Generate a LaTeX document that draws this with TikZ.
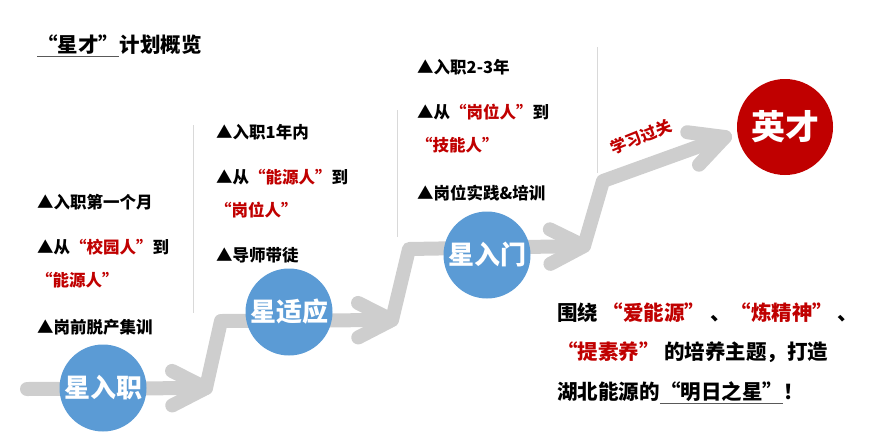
\documentclass[tikz,border=0pt]{standalone}
\usepackage{fontspec}
\setmainfont{Noto Sans CJK SC}
\usetikzlibrary{arrows.meta,positioning,calc}
\definecolor{StarBlue}{RGB}{91,155,213}
\definecolor{StarRed}{RGB}{192,0,0}
\definecolor{StarTrail}{RGB}{206,206,206}
\definecolor{StarRule}{RGB}{217,217,217}
\newcommand{\hl}[1]{\textcolor{StarRed}{#1}}

\begin{document}
\begin{tikzpicture}[
    x=1pt,y=-1pt,
    node distance=0pt,
    txt/.style={anchor=west,inner sep=0pt,font=\bfseries\fontsize{16.5}{19}\selectfont},
    bigtxt/.style={anchor=west,inner sep=0pt,font=\bfseries\fontsize{20.5}{24}\selectfont},
    star/.style={circle,fill=StarBlue,minimum size=87pt,inner sep=0pt,text=white,font=\bfseries\fontsize{26}{29}\selectfont},
    trail/.style={draw=StarTrail,line width=14pt,line cap=round,line join=round},
    rule/.style={draw=StarRule,line width=0.9pt},
    uline/.style={draw=black!65,line width=1pt}
  ]
    \useasboundingbox (0,0) rectangle (885,437);

    % separators
    \draw[rule] (193,125) -- (193,313);
    \draw[rule] (397,110) -- (397,237);
    \draw[rule] (597,47) -- (597,173);

    % the rising trail
    \coordinate (s0) at (27,389);
    \coordinate (t1) at (206,388);
    \coordinate (b1) at (221,321);
    \coordinate (t2) at (392,320);
    \coordinate (b2) at (409,249);
    \coordinate (t3) at (584,246);
    \coordinate (b3) at (603,181);
    \coordinate (t4) at (725,137);
    \draw[trail] (s0) -- (t1) -- (b1) -- (t2) -- (b2) -- (t3) -- (b3) -- (t4);
    \foreach \tip/\from in {t1/s0,t2/b1,t3/b2,t4/b3}
      \draw[trail] ($(\tip)!38pt!27:(\from)$) -- (\tip) -- ($(\tip)!38pt!-27:(\from)$);

    % stages
    \node[star] (entry) at (103,388) {星入职};
    \node[star] (adapt) at (289,312) {星适应};
    \node[star] (start) at (487,255) {星入门};
    \node[star,fill=StarRed,minimum size=96pt,font=\bfseries\fontsize{34}{38}\selectfont] (talent) at (785,127) {英才};
    \node[rotate=22,text=StarRed,inner sep=0pt,font=\bfseries\fontsize{16}{19}\selectfont] (pass) at (641,137) {学习过关};

    % title
    \node[bigtxt] (ttl) at (37,45) {“星才”};
    \node[bigtxt,right=of ttl] (ttlrest) {计划概览};
    \draw[uline] ([yshift=-1pt]ttl.south west) -- ([yshift=-1pt]ttl.south east);

    % first month
    \node[txt] (m1a) at (37,202) {▲入职第一个月};
    \node[txt] (m1b) at (37,247) {▲从\hl{“校园人”}到};
    \node[txt] (m1c) at (36,280) {\hl{“能源人”}};
    \node[txt] (m1d) at (37,327) {▲岗前脱产集训};

    % first year
    \node[txt] (y1a) at (216,132) {▲入职1年内};
    \node[txt] (y1b) at (216,177) {▲从\hl{“能源人”}到};
    \node[txt] (y1c) at (215,210) {\hl{“岗位人”}};
    \node[txt] (y1d) at (216,255) {▲导师带徒};

    % years two to three
    \node[txt] (y3a) at (417,67) {▲入职2-3年};
    \node[txt] (y3b) at (417,112) {▲从\hl{“岗位人”}到};
    \node[txt] (y3c) at (416,145) {\hl{“技能人”}};
    \node[txt] (y3d) at (417,193) {▲岗位实践\&培训};

    % theme
    \node[bigtxt] (th1) at (557,313) {围绕 \hl{“爱能源”} 、\hl{“炼精神”} 、};
    \node[bigtxt] (th2) at (557,352) {\hl{“提素养”} 的培养主题，打造};
    \node[bigtxt] (th3) at (557,392) {湖北能源的};
    \node[bigtxt,right=of th3] (star) {“明日之星”};
    \node[bigtxt,right=of star] (bang) {！};
    \draw[uline] ([yshift=-1pt]star.south west) -- ([yshift=-1pt]star.south east);
  \end{tikzpicture}
\end{document}
